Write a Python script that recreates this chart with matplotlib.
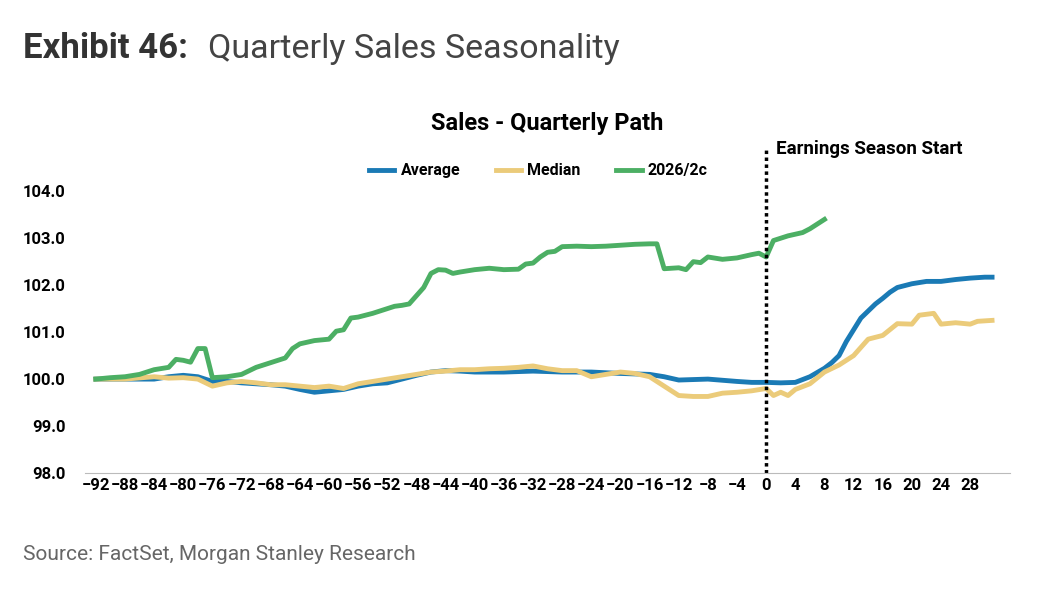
import matplotlib.pyplot as plt

# days relative to earnings season start
green_x = [-92, -90, -88, -86, -84, -82, -81, -80, -79, -78, -77, -76, -74, -72, -70, -68, -66, -65,
           -64, -62, -60, -59, -58, -57, -56, -54, -52, -51, -50, -49, -47, -46, -45, -44, -43, -42,
           -40, -38, -36, -34, -33, -32, -31, -30, -29, -28, -26, -24, -22, -20, -18, -16, -15, -14,
           -12, -11, -10, -9, -8, -6, -4, -2, -1, 0, 1, 3, 5, 6, 7, 8]
green_y = [100.0, 100.03, 100.05, 100.1, 100.2, 100.25, 100.42, 100.4, 100.36, 100.65, 100.65, 100.03,
           100.05, 100.1, 100.25, 100.35, 100.45, 100.65, 100.75, 100.82, 100.85, 101.02, 101.05, 101.3,
           101.32, 101.4, 101.5, 101.55, 101.57, 101.6, 101.95, 102.25, 102.33, 102.32, 102.25, 102.28,
           102.33, 102.36, 102.33, 102.34, 102.45, 102.47, 102.6, 102.7, 102.72, 102.82, 102.83, 102.82,
           102.83, 102.85, 102.87, 102.88, 102.88, 102.35, 102.37, 102.33, 102.5, 102.48, 102.6, 102.55,
           102.58, 102.65, 102.68, 102.6, 102.95, 103.05, 103.12, 103.2, 103.3, 103.4]

avg_x = [-92, -88, -84, -82, -80, -78, -76, -74, -72, -70, -68, -66, -64, -62, -60, -58, -56, -54, -52,
         -50, -48, -46, -44, -42, -40, -36, -32, -28, -24, -20, -16, -14, -12, -8, -4, -2, 0, 2, 4, 6,
         8, 9, 10, 11, 12, 13, 14, 15, 16, 17, 18, 20, 22, 24, 26, 28, 30, 31]
avg_y = [100.0, 100.0, 100.0, 100.05, 100.08, 100.05, 99.95, 99.95, 99.92, 99.9, 99.88, 99.85, 99.78,
         99.72, 99.75, 99.78, 99.85, 99.9, 99.92, 100.0, 100.08, 100.15, 100.18, 100.17, 100.15, 100.15,
         100.17, 100.15, 100.15, 100.12, 100.1, 100.05, 99.98, 100.0, 99.95, 99.93, 99.93, 99.92, 99.93,
         100.05, 100.23, 100.35, 100.5, 100.8, 101.05, 101.3, 101.45, 101.6, 101.72, 101.85, 101.95,
         102.03, 102.08, 102.08, 102.12, 102.15, 102.17, 102.17]

med_x = [-92, -88, -84, -82, -80, -78, -76, -74, -72, -70, -68, -66, -64, -62, -60, -58, -56, -54, -52,
         -50, -48, -46, -44, -42, -40, -38, -36, -34, -32, -30, -28, -26, -24, -22, -20, -18, -16, -14,
         -12, -10, -8, -6, -4, -2, 0, 1, 2, 3, 4, 6, 8, 10, 12, 14, 16, 18, 20, 21, 23, 24, 26, 28, 29, 31]
med_y = [100.0, 100.0, 100.05, 100.02, 100.03, 100.0, 99.85, 99.92, 99.95, 99.92, 99.88, 99.88, 99.85,
         99.82, 99.85, 99.8, 99.9, 99.95, 100.0, 100.05, 100.1, 100.15, 100.17, 100.2, 100.2, 100.22,
         100.23, 100.25, 100.28, 100.22, 100.18, 100.18, 100.05, 100.1, 100.15, 100.12, 100.05, 99.85,
         99.65, 99.63, 99.63, 99.7, 99.72, 99.75, 99.8, 99.65, 99.72, 99.65, 99.78, 99.9, 100.15, 100.3,
         100.5, 100.85, 100.93, 101.18, 101.17, 101.36, 101.4, 101.17, 101.2, 101.17, 101.23, 101.25]

xticks = list(range(-92, 29, 4))
yticks = [98.0, 99.0, 100.0, 101.0, 102.0, 103.0, 104.0]

plt.rcParams['font.family'] = ['Roboto', 'DejaVu Sans']
fig = plt.figure(figsize=(10.48, 6.08), dpi=100)
ax = fig.add_axes([0.081, 0.222, 0.883, 0.533])

ax.plot(avg_x, avg_y, color='#1a7ab5', lw=3.5, label='Average')
ax.plot(med_x, med_y, color='#ebcb7a', lw=3.5, label='Median')
ax.plot(green_x, green_y, color='#4caf64', lw=3.5, label='2026/2c')
ax.axvline(0, color='black', ls=(0, (1, 1)), lw=2.5)

ax.set_xlim(-93.5, 33.5)
ax.set_ylim(98, 104.9)
ax.set_xticks(xticks)
ax.set_yticks(yticks)
ax.set_yticklabels([f'{v:.1f}' for v in yticks])
ax.tick_params(length=0, labelsize=12)
for lab in ax.get_xticklabels() + ax.get_yticklabels():
    lab.set_fontweight('bold')
ax.tick_params(axis='y', pad=14)
for s in ['top', 'right', 'left']:
    ax.spines[s].set_visible(False)
ax.spines['bottom'].set_color('#bbbbbb')

ax.text(1.3, 104.9, 'Earnings Season Start', fontsize=13.5, fontweight='bold', va='center')
ax.legend(loc='upper center', bbox_to_anchor=(0.49, 1.0), ncol=3, frameon=False,
          prop={'weight': 'bold', 'size': 11.5}, handlelength=1.6, handletextpad=0.4,
          columnspacing=2.2)
ax.set_title('Sales - Quarterly Path', fontsize=17, fontweight='bold', pad=14)

fig.text(0.022, 0.92, 'Exhibit 46:', fontsize=25, fontweight='bold', color='#333333', va='center')
fig.text(0.198, 0.92, 'Quarterly Sales Seasonality', fontsize=24.5, color='#444444', va='center')
fig.text(0.022, 0.088, 'Source: FactSet, Morgan Stanley Research', fontsize=15, color='#666666', va='center')

fig.savefig('out.png', dpi=100)
